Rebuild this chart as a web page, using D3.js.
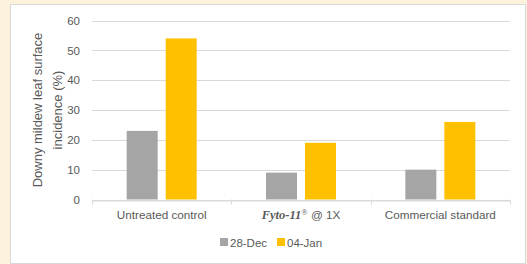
<!DOCTYPE html>
<html><head><meta charset="utf-8">
<script src="https://cdn.jsdelivr.net/npm/d3@7"></script>
<style>
html,body{margin:0;padding:0;background:#fdf3dd;}
svg{display:block;}
</style></head>
<body>
<svg id="c" width="527" height="264"></svg>
<script>
const categories = ["Untreated control", "Fyto-11", "Commercial standard"];
const seriesNames = ["28-Dec", "04-Jan"];
const dec28 = [23, 9, 10];
const jan04 = [54, 19, 26];
const yTicks = [0, 10, 20, 30, 40, 50, 60];
const colors = ["#a5a5a5", "#ffc000"];

const svg = d3.select("#c");
const font = "'Liberation Sans', Arial, sans-serif";
const txt = "#595959";
svg.append("rect").attr("x",10.5).attr("y",4.5).attr("width",515).attr("height",259)
  .attr("fill","#fff").attr("stroke","#d9d9d9");

const x0 = d3.scaleBand().domain(categories).range([92, 510]).paddingInner(0).paddingOuter(0);
const x1 = d3.scaleBand().domain(seriesNames).range([0, x0.bandwidth()]).paddingInner(0.205).paddingOuter(0.889);
const y = d3.scaleLinear().domain([0, 60]).range([199.5, 20.5]);

const grid = svg.append("g");
yTicks.forEach(t => {
  grid.append("line").attr("x1",92).attr("x2",510).attr("y1",Math.round(y(t))+0.5).attr("y2",Math.round(y(t))+0.5)
    .attr("stroke","#d9d9d9").attr("stroke-width",1);
});

const yAxis = svg.append("g").attr("transform","translate(92,0)")
  .call(d3.axisLeft(y).tickValues(yTicks).tickSize(0).tickPadding(12));
yAxis.select(".domain").remove();
yAxis.selectAll("text").attr("font-family",font).attr("font-size",11.5).attr("fill",txt);

const data = categories.map((c,i)=>({cat:c, vals:[dec28[i], jan04[i]]}));
const g = svg.append("g");
data.forEach(d => {
  d.vals.forEach((v,j) => {
    g.append("rect").attr("x", x0(d.cat)+x1(seriesNames[j])).attr("width", x1.bandwidth())
      .attr("y", y(v)).attr("height", y(0)-y(v)).attr("fill", colors[j]);
  });
});

// x axis
const xAxis = svg.append("g").attr("transform","translate(0,"+(Math.round(y(0))+0.5)+")")
  .call(d3.axisBottom(x0).tickSize(0).tickFormat(()=>""));
xAxis.select(".domain").attr("stroke","#d9d9d9");
[92, 92+x0.bandwidth(), 92+2*x0.bandwidth(), 510].forEach(tx=>{
  svg.append("line").attr("x1",Math.round(tx)+0.5).attr("x2",Math.round(tx)+0.5).attr("y1",y(0)).attr("y2",y(0)+5).attr("stroke","#d9d9d9");
});
categories.forEach((c,i)=>{
  const cx = x0(c)+x0.bandwidth()/2;
  const t = svg.append("text").attr("x",cx).attr("y",219).attr("text-anchor","middle")
    .attr("font-family",font).attr("font-size",11.7).attr("fill",txt);
  if (c === "Fyto-11") {
    t.append("tspan").attr("font-family","'Liberation Serif','Times New Roman',serif").attr("font-style","italic").attr("font-weight","bold").attr("font-size",12.5).text("Fyto-11");
    t.append("tspan").attr("font-family","'Liberation Serif','Times New Roman',serif").attr("font-size",8.5).attr("dy",-4).text("®");
    t.append("tspan").attr("dy",4).text(" @ 1X");
  } else t.text(c);
});

// y title
const yt = svg.append("text").attr("transform","translate(42,110) rotate(-90)").attr("text-anchor","middle")
  .attr("font-family",font).attr("font-size",13).attr("fill",txt);
yt.append("tspan").attr("x",0).attr("dy",0).text("Downy mildew leaf surface");
yt.append("tspan").attr("x",0).attr("dy",19.5).text("incidence (%)");

// legend
const leg = svg.append("g");
const lx = [220, 277];
seriesNames.forEach((s,j)=>{
  leg.append("rect").attr("x",lx[j]).attr("y",238).attr("width",8).attr("height",8).attr("fill",colors[j]);
  leg.append("text").attr("x",lx[j]+10).attr("y",246.5).attr("font-family",font).attr("font-size",11.5).attr("fill",txt).text(s);
});
</script>
</body></html>
